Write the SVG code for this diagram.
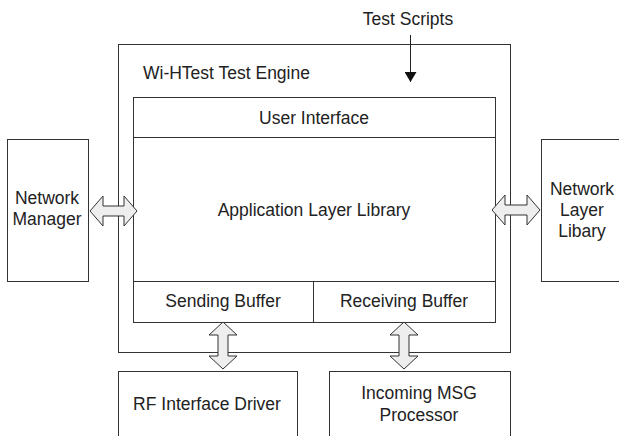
<svg xmlns="http://www.w3.org/2000/svg" width="619" height="436" viewBox="0 0 619 436">
  <style>
    .box { fill: #fff; stroke: #333; stroke-width: 1; }
    .line { stroke: #222; stroke-width: 1; fill: none; }
    .lbl { font-family: "Liberation Sans", Arial, Helvetica, sans-serif; font-size: 17.5px; fill: #222; }
    .mid { text-anchor: middle; }
    .dbl { fill: #eee; stroke: #333; stroke-width: 1; stroke-linejoin: miter; }
  </style>
  <defs>
    <marker id="head" viewBox="0 0 10 12" refX="10" refY="6" markerWidth="10" markerHeight="12" markerUnits="userSpaceOnUse" orient="auto">
      <path d="M0,0 L10,6 L0,12 Z" fill="#111"/>
    </marker>
  </defs>

  <rect width="619" height="436" fill="#fff"/>

  <!-- test engine container -->
  <g id="engine">
    <rect class="box" x="118.5" y="44.5" width="392" height="308"/>
    <text class="lbl" x="143" y="79">Wi-HTest Test Engine</text>
  </g>

  <g id="user-interface">
    <rect class="box" x="133.5" y="97.5" width="362" height="40"/>
    <text class="lbl mid" x="314" y="124">User Interface</text>
  </g>

  <g id="application-layer-library">
    <rect class="box" x="133.5" y="137.5" width="362" height="144"/>
    <text class="lbl mid" x="314" y="216">Application Layer Library</text>
  </g>

  <g id="sending-buffer">
    <rect class="box" x="133.5" y="281.5" width="180" height="41"/>
    <text class="lbl mid" x="223" y="307">Sending Buffer</text>
  </g>

  <g id="receiving-buffer">
    <rect class="box" x="313.5" y="281.5" width="182" height="41"/>
    <text class="lbl mid" x="404" y="307">Receiving Buffer</text>
  </g>

  <g id="network-manager">
    <rect class="box" x="7.5" y="139.5" width="81" height="142"/>
    <text class="lbl mid" x="47" y="204">Network</text>
    <text class="lbl mid" x="47" y="225">Manager</text>
  </g>

  <g id="network-layer-library">
    <rect class="box" x="541.5" y="139.5" width="100" height="142"/>
    <text class="lbl mid" x="582" y="195">Network</text>
    <text class="lbl mid" x="582" y="216">Layer</text>
    <text class="lbl mid" x="582" y="237">Libary</text>
  </g>

  <g id="rf-interface-driver">
    <rect class="box" x="118.5" y="371.5" width="179" height="90"/>
    <text class="lbl mid" x="207" y="410">RF Interface Driver</text>
  </g>

  <g id="incoming-msg-processor">
    <rect class="box" x="329.5" y="371.5" width="181" height="90"/>
    <text class="lbl mid" x="419" y="399">Incoming MSG</text>
    <text class="lbl mid" x="419" y="421">Processor</text>
  </g>

  <g id="test-scripts">
    <text class="lbl mid" x="408" y="25">Test Scripts</text>
  </g>

  <!-- connectors -->
  <g id="connectors">
    <line class="line" x1="410.5" y1="35" x2="410.5" y2="82" marker-end="url(#head)"/>
    <!-- left: network manager <-> engine -->
    <path class="dbl" d="M90,211 L103,196 L103,206 L124,206 L124,196 L137,211 L124,226 L124,216 L103,216 L103,226 Z"/>
    <!-- right: engine <-> network layer library -->
    <path class="dbl" d="M492,210 L505,195 L505,205 L527,205 L527,195 L540,210 L527,225 L527,215 L505,215 L505,225 Z"/>
    <!-- sending buffer <-> RF interface driver -->
    <path class="dbl" d="M223,322 L237,335 L228,335 L228,356 L237,356 L223,369 L209,356 L218,356 L218,335 L209,335 Z"/>
    <!-- receiving buffer <-> incoming MSG processor -->
    <path class="dbl" d="M404,322 L418,335 L409,335 L409,356 L418,356 L404,369 L390,356 L399,356 L399,335 L390,335 Z"/>
  </g>
</svg>
